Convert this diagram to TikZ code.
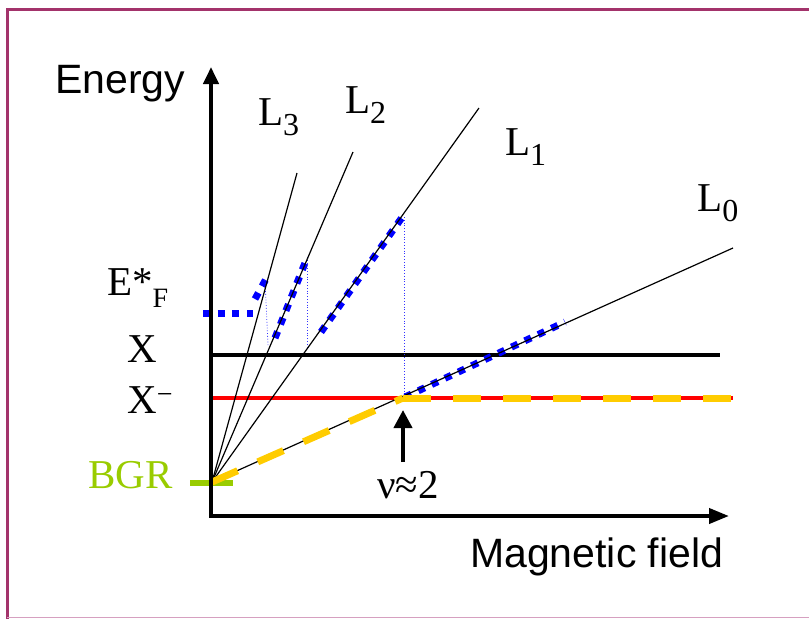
\documentclass[tikz,border=0pt]{standalone}
\usepackage{fontspec}
\setmainfont{Liberation Serif}
\setsansfont{Liberation Sans}
\usepackage{xcolor}
\usetikzlibrary{arrows.meta}

\definecolor{frameplum}{RGB}{163,51,107}
\definecolor{framepink}{RGB}{214,160,192}
\definecolor{bgrgreen}{RGB}{153,204,0}
\definecolor{dashgold}{RGB}{255,204,0}
\newcommand{\fsz}[1]{\fontsize{#1}{#1}\selectfont}

\begin{document}
\begin{tikzpicture}[
    x=1pt, y=-1pt,
    font=\fsz{41},
    lbl/.style={inner sep=0pt, anchor=base west},
    fan/.style={line width=1.2pt},
    fermi/.style={blue, line width=7pt, dash pattern=on 7pt off 7.7pt},
    jump/.style={blue!80, line width=0.8pt, dotted},
    goldline/.style={dashgold, line width=7pt, dash pattern=on 28pt off 22pt}
]
\useasboundingbox (0,0) rectangle (809,619);

% --- RAHMEN ---
\draw[frameplum, line width=3pt] (7,619) -- (7,9) -- (809,9);
\draw[framepink, line width=1.5pt] (7,617.5) -- (809,617.5);

% --- PUNKTE ---
\coordinate (O) at (212,482);
\coordinate (ytip) at (211,67);
\coordinate (corner) at (211,516);
\coordinate (xtip) at (729,516);
\coordinate (L3end) at (297,173);
\coordinate (L2end) at (353,152);
\coordinate (L1end) at (479,108);
\coordinate (L0end) at (733,248);
\coordinate (kink) at (403,398);
\coordinate (nutail) at (403,462);

% --- NIVEAUS X UND X- ---
\draw[line width=4pt] (211,355) -- (720,355);
\draw[red, line width=4pt] (211,398) -- (733,398);

% --- FERMI-ENERGIE (blau) ---
\draw[fermi] (203,313) -- (253,313);
\draw[fermi] (255,299) -- (266,279);
\draw[jump] (265,280) -- (268,345);
\draw[fermi] (275,338) -- (307,258);
\draw[jump] (307,257) -- (307,347);
\draw[fermi] (321,332) -- (403,216);
\draw[jump] (404,217) -- (404,396);
\draw[fermi] (405,397) -- (565,322);

% --- LANDAU-NIVEAUS ---
\foreach \lend in {L3end, L2end, L1end, L0end}
  \draw[fan] (O) -- (\lend);

% --- BGR ---
\draw[bgrgreen, line width=6pt] (190,483) -- (233,483);
\draw[goldline] (O) -- (kink);
\draw[goldline] (kink) -- (733,398);

% --- ACHSEN ---
\draw[line width=4pt, line join=miter,
      {Triangle[width=15pt,length=17pt]}-{Triangle[width=15pt,length=20pt]}]
      (ytip) -- (corner) -- (xtip);

% --- NU = 2 ---
\draw[line width=4pt, -{Triangle[width=18pt,length=18pt]}, shorten >=12pt] (nutail) -- (kink);

% --- BESCHRIFTUNGEN ---
\node[lbl] (energy) at (55,93) {\sffamily Energy};
\node[lbl] (field) at (470,567) {\sffamily Magnetic field};
\node[lbl] (l3) at (258,125) {L\raisebox{-10pt}{\fsz{32}3}};
\node[lbl] (l2) at (345,113) {L\raisebox{-10pt}{\fsz{32}2}};
\node[lbl] (l1) at (505,155) {L\raisebox{-10pt}{\fsz{32}1}};
\node[lbl] (l0) at (697,211) {L\raisebox{-10pt}{\fsz{32}0}};
\node[lbl] (ef) at (107,295) {E*\raisebox{-12pt}{\fsz{28}F}};
\node[lbl] (xx) at (127,362) {X};
\node[lbl] (xminus) at (127,413) {X\raisebox{10pt}{\fsz{28}−}};
\node[lbl, text=bgrgreen] (bgr) at (88,488) {BGR};
\node[lbl] (nu) at (377,498) {ν≈2};

\end{tikzpicture}
\end{document}
